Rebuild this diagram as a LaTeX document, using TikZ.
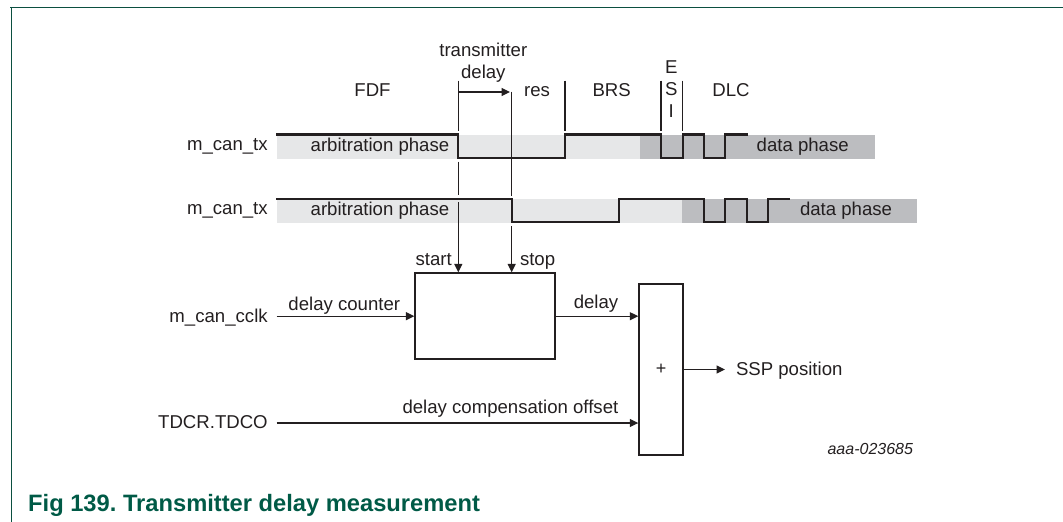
\documentclass[tikz,border=0pt]{standalone}
\usepackage{fontspec}
\setmainfont{Liberation Sans}
\usetikzlibrary{arrows.meta,calc}
\frenchspacing
\definecolor{ink}{HTML}{231F20}
\definecolor{framegreen}{HTML}{0B4F40}
\definecolor{titlegreen}{HTML}{005A46}
\definecolor{lightband}{HTML}{E6E7E8}
\definecolor{darkband}{HTML}{BCBDC0}
\tikzset{
  lbl/.style={inner sep=0pt,outer sep=0pt,text=ink,font=\fontsize{18.6}{22}\selectfont},
  lc/.style={lbl,anchor=base},
  ll/.style={lbl,anchor=base west},
  lr/.style={lbl,anchor=base east},
  wave/.style={draw=ink,line width=2.3pt,line join=miter,line cap=butt},
  thin line/.style={draw=ink,line width=1.1pt},
  conn/.style={draw=ink,line width=1.1pt,-{Triangle[length=8.5pt,width=8pt]}},
  blockbox/.style={draw=ink,line width=2.1pt,fill=white,inner sep=0pt,outer sep=0pt},
  framel/.style={draw=framegreen,line width=1.5pt}
}
\begin{document}
\begin{tikzpicture}[x=1pt,y=-1pt]
\useasboundingbox (0,0) rectangle (1063,522);
% frame
\coordinate (fa) at (10,7.3); \coordinate (fb) at (1063,7.3);
\coordinate (fc) at (11.3,7.3); \coordinate (fd) at (11.3,522);
\draw[framel] (fa) -- (fb);
\draw[framel] (fc) -- (fd);
% bands
\fill[lightband] (277,135) rectangle (640,159);
\fill[darkband] (640,135) rectangle (875,159);
\fill[lightband] (277,199) rectangle (682,223);
\fill[darkband] (682,199) rectangle (917,223);
% guide coordinates
\coordinate (a1) at (458.3,80.7); \coordinate (a2) at (458.3,130.7);
\coordinate (a3) at (458.3,161.7); \coordinate (a4) at (458.3,195);
\coordinate (a5) at (458.3,202);
\coordinate (b1) at (511.7,91.7); \coordinate (b2) at (511.7,195.7);
\coordinate (b3) at (511.7,226);
\coordinate (c1) at (565,80.7); \coordinate (c2) at (565,130.7);
\coordinate (d1) at (661,80.7); \coordinate (d2) at (661,130.7);
\coordinate (e1) at (682.7,80.7); \coordinate (e2) at (682.7,130.7);
\coordinate (da) at (458.3,92); \coordinate (db) at (510,92);
% guides
\draw[thin line] (a1) -- (a2);
\draw[thin line] (a3) -- (a4);
\draw[thin line] (b1) -- (b2);
\draw[thin line] (c1) -- (c2);
\draw[thin line] (d1) -- (d2);
\draw[thin line] (e1) -- (e2);
\draw[conn] (da) -- (db);
% waves
\draw[wave] (276,134.5) -| (458.3,158) -| (565,134.5) -| (661,158) -| (682.7,134.5) -| (704,158) -| (725,134.5) -- (747.7,134.5);
\draw[wave] (276,198.7) -| (511.7,222) -| (618.7,198.7) -| (704,222) -| (725,198.7) -| (746.7,222) -| (767.7,198.7) -- (790,198.7);
% blocks
\node[blockbox,minimum width=139.7pt,minimum height=85.7pt] (cnt) at (485.2,316.2) {};
\node[blockbox,minimum width=43.4pt,minimum height=171pt] (add) at (661,369.5) {};
\node[lbl,anchor=center,font=\fontsize{18}{20}\selectfont] (plus) at (add.center) {+};
% labels
\node[lc] (lfdf) at (372.5,96) {FDF};
\node[lc] (ltr) at (483.3,56) {transmitter};
\node[lc] (ldl) at (483.3,78) {delay};
\node[lc] (lres) at (537,96) {res};
\node[lc] (lbrs) at (611.7,96) {BRS};
\node[lc] (le) at (671.3,73) {E};
\node[lc] (ls) at (671.3,95) {S};
\node[lc] (li) at (671.3,117.7) {I};
\node[lc] (ldlc) at (731,96) {DLC};
\node[ll] (arb1) at (310.7,151.7) {arbitration phase};
\node[ll] (arb2) at (310.7,215.7) {arbitration phase};
\node[ll] (dat1) at (756.7,151.7) {data phase};
\node[ll] (dat2) at (800,215.7) {data phase};
\node[lr] (tx1) at (267.7,150) {m\_can\_tx};
\node[lr] (tx2) at (267.7,214) {m\_can\_tx};
\node[lr] (cclk) at (267.7,322) {m\_can\_cclk};
\node[lr] (tdco) at (267.7,428.3) {TDCR.TDCO};
\node[lc] (ldc) at (344.3,310) {delay counter};
\node[lr] (lstart) at (451.7,265) {start};
\node[ll] (lstop) at (520,265) {stop};
\node[lc] (ldelay) at (596,308) {delay};
\node[lr] (loff) at (618.3,413.3) {delay compensation offset};
\node[ll] (lssp) at (736,375.7) {SSP position};
\node[lr,font=\fontsize{16}{18}\selectfont\itshape] (lref) at (913,454.3) {aaa-023685};
\node[anchor=base west,inner sep=0pt,text=titlegreen,font=\fontsize{23.7}{26}\selectfont\bfseries] (ltitle) at (28,511.7) {Fig 139. Transmitter delay measurement};
% connectors
\coordinate (s1) at (276.7,316.2); \coordinate (s2) at (276.7,423); \coordinate (s3) at (725,369.5);
\draw[conn,shorten >=1pt] (a5) -- (a5 |- cnt.north);
\draw[conn,shorten >=1pt] (b3) -- (b3 |- cnt.north);
\draw[conn,shorten >=1pt] (s1) -- (cnt.west);
\draw[conn,shorten >=1pt] (cnt.east) -- (add.west |- cnt.east);
\draw[conn,shorten >=1pt] (s2) -- (s2 -| add.west);
\draw[conn] (add.east) -- (s3);
\end{tikzpicture}
\end{document}
